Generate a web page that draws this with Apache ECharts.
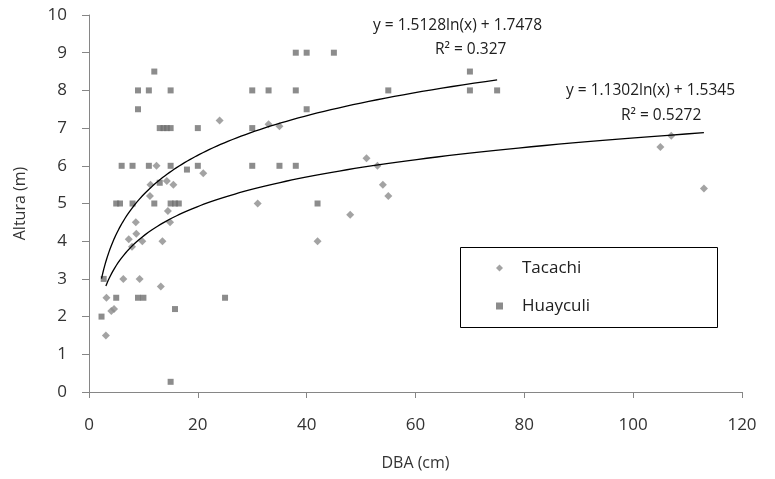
<!DOCTYPE html>
<html>
<head>
<meta charset="utf-8">
<script src="https://cdn.jsdelivr.net/npm/echarts@6/dist/echarts.min.js"></script>
<style>html,body{margin:0;padding:0;background:#fff}#c{width:775px;height:479px}</style>
</head>
<body>
<div id="c"></div>
<script>
var tacachi = [
  [3.1,1.5],[3.2,2.5],[4.1,2.15],[4.6,2.2],[6.3,3],[9.3,3],[13.2,2.8],
  [7.3,4.05],[7.9,3.85],[8.6,4.5],[8.7,4.2],[9.8,4.0],[13.5,4.0],[14.5,4.8],
  [14.9,4.5],[11.2,5.2],[11.3,5.5],[14.3,5.6],[15.5,5.5],[12.4,6],[21,5.8],
  [24,7.2],[33,7.1],[35,7.05],[31,5],[42,4],[48,4.7],[51,6.2],[53,6],
  [54,5.5],[55,5.2],[105,6.5],[107,6.8],[113,5.4]
];
var huayculi = [
  [2.3,2],[2.7,3],[5,2.5],[9,2.5],[10,2.5],[15.8,2.2],[15,0.27],[25,2.5],
  [5,5],[5.7,5],[8,5],[12,5],[15,5],[15.8,5],[16.5,5],[13,5.55],
  [6,6],[8,6],[11,6],[15,6],[18,5.9],[20,6],
  [13,7],[13.7,7],[14.3,7],[15,7],[20,7],[9,7.5],[9,8],[11,8],[15,8],[12,8.5],
  [30,8],[33,8],[38,8],[30,7],[30,6],[35,6],[38,6],[40,7.5],
  [38,9],[40,9],[45,9],[42,5],[55,8],[70,8.5],[70,8],[75,8]
];
// Logarithmic trendline coefficients shown on the chart: y = a ln(x) + b
var tacachiFit = [1.1302, 1.5345];
var huayculiFit = [1.5128, 1.7478];
var xTicks = [0, 120, 20];
var yTicks = [0, 10, 1];

function trend(data, fit) {
  var xs = data.map(function (d) { return d[0]; });
  var lo = Math.min.apply(null, xs), hi = Math.max.apply(null, xs);
  var pts = [], n = 120;
  for (var i = 0; i <= n; i++) {
    var x = lo * Math.pow(hi / lo, i / n);
    pts.push([x, fit[0] * Math.log(x) + fit[1]]);
  }
  return pts;
}

var FONT = 'Open Sans';
var TXT = '#333333';
var chart = echarts.init(document.getElementById('c'));
chart.setOption({
  animation: false,
  backgroundColor: '#fff',
  grid: { left: 89, right: 33, top: 15, bottom: 87 },
  xAxis: {
    type: 'value', min: xTicks[0], max: xTicks[1], interval: xTicks[2],
    name: 'DBA (cm)', nameLocation: 'middle', nameGap: 63,
    nameTextStyle: { fontFamily: FONT, fontSize: 16, color: TXT },
    axisLine: { show: true, onZero: false, lineStyle: { color: '#868686', width: 1 } },
    axisTick: { show: true, length: 6, lineStyle: { color: '#868686' } },
    axisLabel: { margin: 25, fontFamily: FONT, fontSize: 17, color: TXT },
    splitLine: { show: false }
  },
  yAxis: {
    type: 'value', min: yTicks[0], max: yTicks[1], interval: yTicks[2],
    name: 'Altura (m)', nameLocation: 'middle', nameGap: 61,
    nameTextStyle: { fontFamily: FONT, fontSize: 16, color: TXT },
    axisLine: { show: true, onZero: false, lineStyle: { color: '#868686', width: 1 } },
    axisTick: { show: true, length: 7, lineStyle: { color: '#868686' } },
    axisLabel: { margin: 22, fontFamily: FONT, fontSize: 17, color: TXT },
    splitLine: { show: false }
  },
  legend: {
    orient: 'vertical', left: 491, top: 253, itemWidth: 7, itemHeight: 7, itemGap: 18,
    textStyle: { fontFamily: FONT, fontSize: 17, lineHeight: 20, color: '#202020', padding: [0, 0, 0, 14] },
    data: ['Tacachi', 'Huayculi']
  },
  graphic: [
    { type: 'rect', shape: { x: 460.5, y: 247.5, width: 257, height: 80 },
      style: { fill: null, stroke: '#000', lineWidth: 1 }, z: 1 },
    { type: 'text', left: 373, top: 18,
      style: { text: 'y = 1.5128ln(x) + 1.7478', font: '15.5px "Open Sans"', fill: '#202020' } },
    { type: 'text', left: 435, top: 42,
      style: { text: 'R² = 0.327', font: '15.5px "Open Sans"', fill: '#202020' } },
    { type: 'text', left: 566, top: 83,
      style: { text: 'y = 1.1302ln(x) + 1.5345', font: '15.5px "Open Sans"', fill: '#202020' } },
    { type: 'text', left: 621, top: 108,
      style: { text: 'R² = 0.5272', font: '15.5px "Open Sans"', fill: '#202020' } }
  ],
  series: [
    { name: 'Tacachi', type: 'scatter', symbol: 'diamond', symbolSize: 8,
      itemStyle: { color: '#8c8c8c' }, data: tacachi, z: 2 },
    { name: 'Huayculi', type: 'scatter', symbol: 'rect', symbolSize: 6,
      itemStyle: { color: '#6f6f6f' }, data: huayculi, z: 2 },
    { name: 'trendT', type: 'line', data: trend(tacachi, tacachiFit), showSymbol: false,
      symbol: 'none', lineStyle: { color: '#000', width: 1.3 }, z: 3, silent: true },
    { name: 'trendH', type: 'line', data: trend(huayculi, huayculiFit), showSymbol: false,
      symbol: 'none', lineStyle: { color: '#000', width: 1.3 }, z: 3, silent: true }
  ]
});
</script>
</body>
</html>
